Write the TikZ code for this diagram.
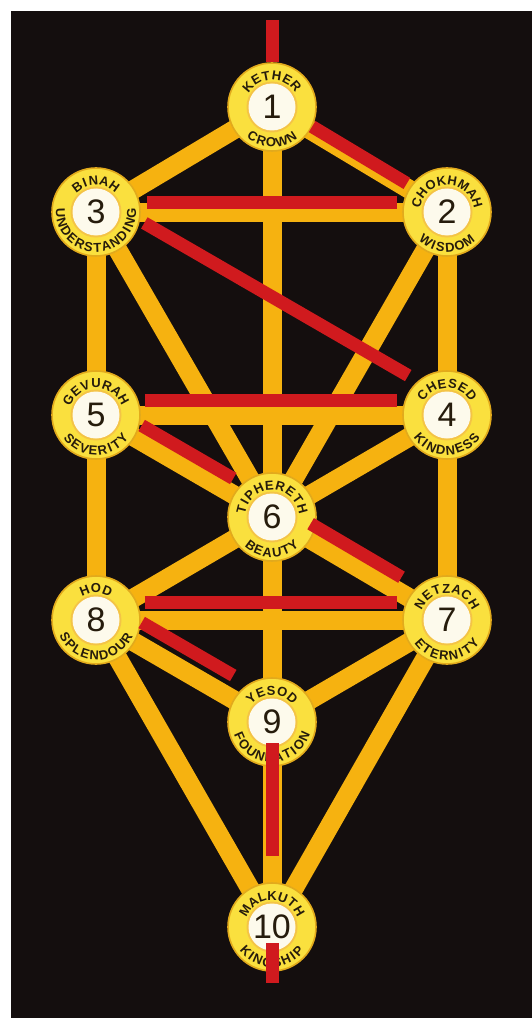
\documentclass[tikz,border=0pt]{standalone}
\usepackage{fontspec}
\usepackage{xcolor}
\usepackage{tikz}
\usetikzlibrary{decorations.text}
\setmainfont{Liberation Sans}
\definecolor{TreeBlack}{RGB}{20,14,14}
\definecolor{PathGold}{RGB}{246,178,16}
\definecolor{FlashRed}{RGB}{208,26,30}
\definecolor{DiscYellow}{RGB}{250,224,62}
\definecolor{DiscRim}{RGB}{226,170,28}
\definecolor{InnerRing}{RGB}{244,196,70}
\definecolor{InnerWhite}{RGB}{253,250,236}
\definecolor{LabelInk}{RGB}{38,28,12}
\pgfdeclarelayer{canvas}
\pgfdeclarelayer{paths}
\pgfsetlayers{canvas,paths,main}
\tikzset{
  sefira/.style={circle, minimum size=88pt, inner sep=0pt, fill=DiscYellow, draw=DiscRim,
    line width=1.6pt, text=LabelInk, font=\fontsize{34}{34}\selectfont,
    path picture={
      \fill[InnerRing] (path picture bounding box.center) circle (25.5pt);
      \fill[InnerWhite] (path picture bounding box.center) circle (23.5pt);
    }},
  conduit/.style={PathGold, line width=19pt},
  flash/.style={FlashRed, line width=13pt},
  toplabel/.style={decorate, decoration={text effects along path, text={#1}, text align=center,
    text effects/.cd, text along path, character widths={inner xsep=1.3pt},
    characters={text=LabelInk, font=\bfseries\fontsize{13}{13}\selectfont}}},
  botlabel/.style={decorate, decoration={text effects along path, text={#1}, text align=center,
    text effects/.cd, text along path, character widths={inner xsep=1.8pt},
    characters={text=LabelInk, font=\bfseries\fontsize{13}{13}\selectfont}}}
}

\begin{document}
\begin{tikzpicture}[x=1pt,y=1pt]
  \path[use as bounding box] (0,0) rectangle (532,-1019);
  \begin{pgfonlayer}{canvas}
    \fill[white] (0,0) rectangle (532,-1019);
    \fill[TreeBlack] (11,-11) rectangle (532,-1018);
  \end{pgfonlayer}

  \node[sefira] (s1) at (272,-107) {1};
  \node[sefira] (s2) at (447,-212) {2};
  \node[sefira] (s3) at (96,-212) {3};
  \node[sefira] (s4) at (447,-415) {4};
  \node[sefira] (s5) at (96,-415) {5};
  \node[sefira] (s6) at (272,-517) {6};
  \node[sefira] (s7) at (447,-620) {7};
  \node[sefira] (s8) at (96,-620) {8};
  \node[sefira] (s9) at (272,-722) {9};
  \node[sefira] (s10) at (272,-927) {10};

  \path[toplabel=KETHER] (s1.center) ++(210:27) arc[start angle=210, end angle=-30, radius=27];
  \path[botlabel=CROWN] (s1.center) ++(150:40) arc[start angle=150, end angle=390, radius=40];
  \path[toplabel=CHOKHMAH] (s2.center) ++(210:27) arc[start angle=210, end angle=-30, radius=27];
  \path[botlabel=WISDOM] (s2.center) ++(150:40) arc[start angle=150, end angle=390, radius=40];
  \path[toplabel=BINAH] (s3.center) ++(210:27) arc[start angle=210, end angle=-30, radius=27];
  \path[botlabel=UNDERSTANDING] (s3.center) ++(150:40) arc[start angle=150, end angle=390, radius=40];
  \path[toplabel=CHESED] (s4.center) ++(210:27) arc[start angle=210, end angle=-30, radius=27];
  \path[botlabel=KINDNESS] (s4.center) ++(150:40) arc[start angle=150, end angle=390, radius=40];
  \path[toplabel=GEVURAH] (s5.center) ++(210:27) arc[start angle=210, end angle=-30, radius=27];
  \path[botlabel=SEVERITY] (s5.center) ++(150:40) arc[start angle=150, end angle=390, radius=40];
  \path[toplabel=TIPHERETH] (s6.center) ++(210:27) arc[start angle=210, end angle=-30, radius=27];
  \path[botlabel=BEAUTY] (s6.center) ++(150:40) arc[start angle=150, end angle=390, radius=40];
  \path[toplabel=NETZACH] (s7.center) ++(210:27) arc[start angle=210, end angle=-30, radius=27];
  \path[botlabel=ETERNITY] (s7.center) ++(150:40) arc[start angle=150, end angle=390, radius=40];
  \path[toplabel=HOD] (s8.center) ++(210:27) arc[start angle=210, end angle=-30, radius=27];
  \path[botlabel=SPLENDOUR] (s8.center) ++(150:40) arc[start angle=150, end angle=390, radius=40];
  \path[toplabel=YESOD] (s9.center) ++(210:27) arc[start angle=210, end angle=-30, radius=27];
  \path[botlabel=FOUNDATION] (s9.center) ++(150:40) arc[start angle=150, end angle=390, radius=40];
  \path[toplabel=MALKUTH] (s10.center) ++(210:27) arc[start angle=210, end angle=-30, radius=27];
  \path[botlabel=KINGSHIP] (s10.center) ++(150:40) arc[start angle=150, end angle=390, radius=40];

  \begin{pgfonlayer}{paths}
    \draw[conduit] (s1.center) -- (s2.center);
    \draw[conduit] (s1.center) -- (s3.center);
    \draw[conduit] (s1.center) -- (s6.center);
    \draw[conduit] (s2.center) -- (s3.center);
    \draw[conduit] (s2.center) -- (s4.center);
    \draw[conduit] (s2.center) -- (s6.center);
    \draw[conduit] (s3.center) -- (s5.center);
    \draw[conduit] (s3.center) -- (s6.center);
    \draw[conduit] (s4.center) -- (s5.center);
    \draw[conduit] (s4.center) -- (s6.center);
    \draw[conduit] (s4.center) -- (s7.center);
    \draw[conduit] (s5.center) -- (s6.center);
    \draw[conduit] (s5.center) -- (s8.center);
    \draw[conduit] (s6.center) -- (s7.center);
    \draw[conduit] (s6.center) -- (s8.center);
    \draw[conduit] (s6.center) -- (s9.center);
    \draw[conduit] (s7.center) -- (s8.center);
    \draw[conduit] (s7.center) -- (s9.center);
    \draw[conduit] (s7.center) -- (s10.center);
    \draw[conduit] (s8.center) -- (s9.center);
    \draw[conduit] (s8.center) -- (s10.center);
    \draw[conduit] (s9.center) -- (s10.center);
  \end{pgfonlayer}

  \coordinate (crownTop) at (272,-20);
  \coordinate (kingBottom) at (272,-983);
  \draw[flash] (crownTop) -- (s1);
  \draw[flash, transform canvas={yshift=4.5pt}, shorten <=2pt, shorten >=2pt] (s1) -- (s2);
  \draw[flash, transform canvas={yshift=9.5pt}, shorten <=6pt, shorten >=5pt] (s3) -- (s2);
  \draw[flash, transform canvas={yshift=17pt}, shorten <=11pt] (s3) -- (s4);
  \draw[flash, transform canvas={yshift=14.5pt}, shorten <=4pt, shorten >=5pt] (s5) -- (s4);
  \draw[flash, transform canvas={yshift=16pt}, shorten <=8pt] (s5) -- (s6);
  \draw[flash, transform canvas={yshift=16pt}, shorten >=8pt] (s6) -- (s7);
  \draw[flash, transform canvas={yshift=18pt}, shorten <=4pt, shorten >=5pt] (s8) -- (s7);
  \draw[flash, transform canvas={yshift=24pt}, shorten <=8pt] (s8) -- (s9);
  \draw[flash] ([yshift=-21pt]s9.center) -- ([yshift=71pt]s10.center);
  \draw[flash] ([yshift=-16pt]s10.center) -- (kingBottom);
\end{tikzpicture}
\end{document}
